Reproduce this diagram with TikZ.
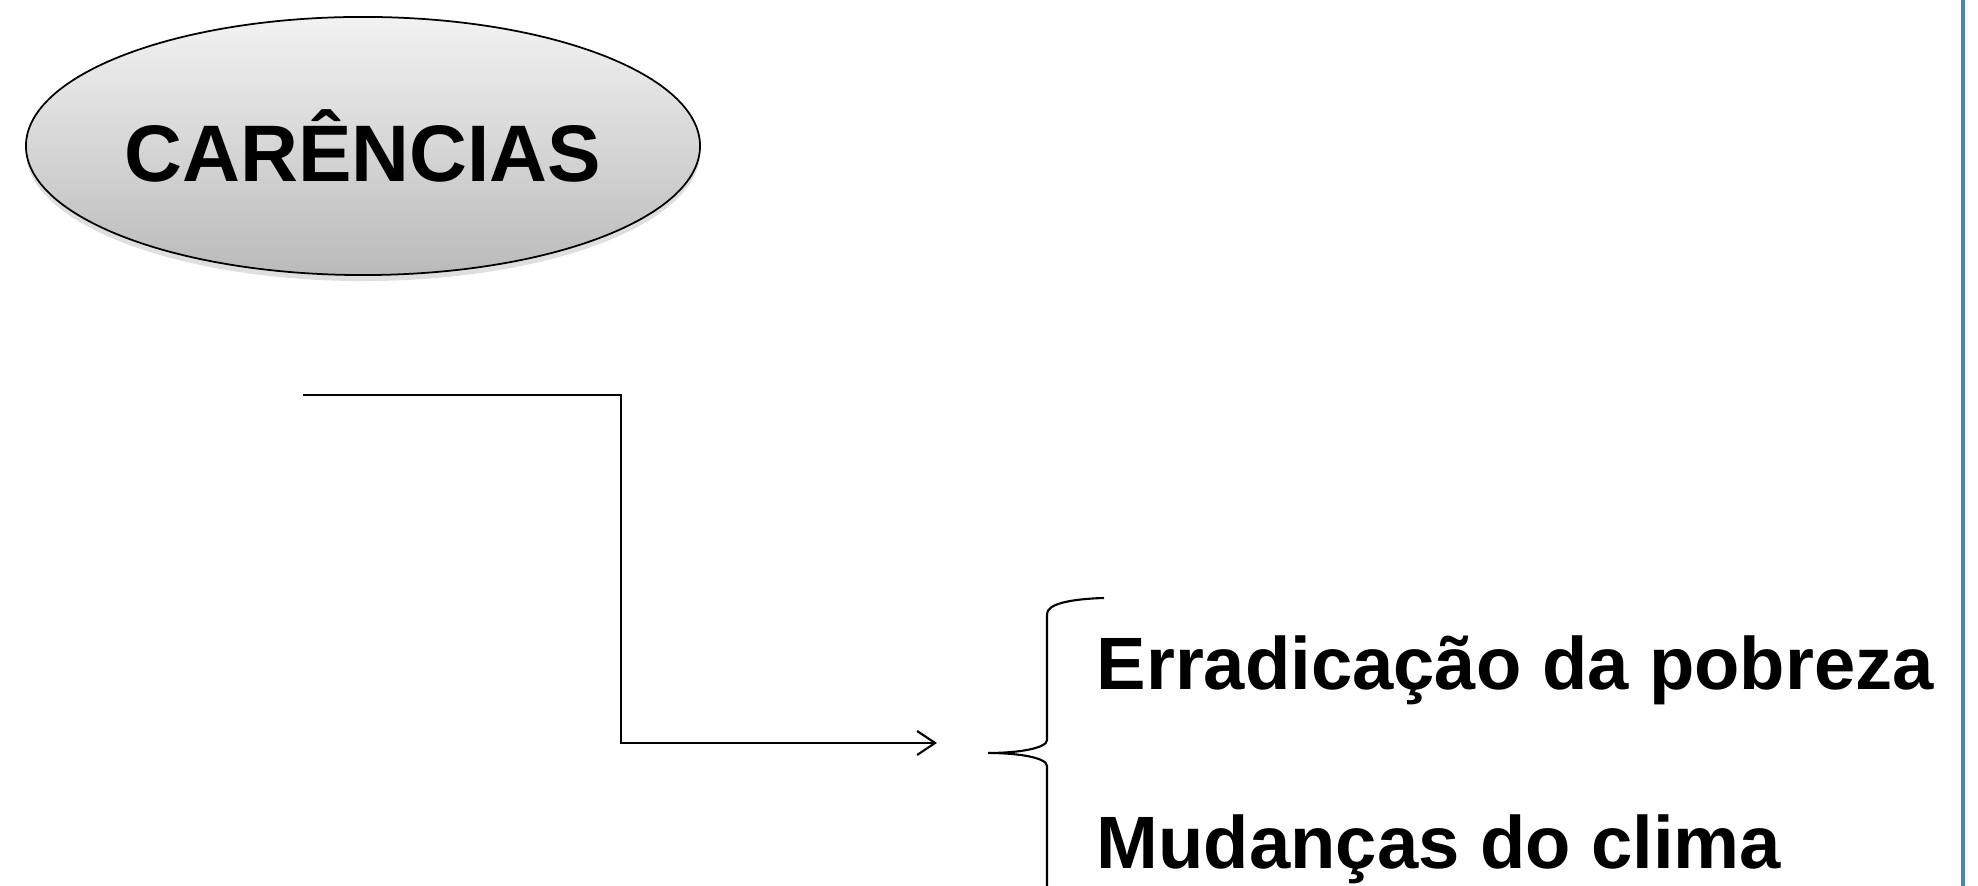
\documentclass[tikz,border=0pt]{standalone}
\usepackage{fontspec}
\setmainfont{Liberation Sans}
\usetikzlibrary{shapes.geometric,shadows,arrows.meta}
\definecolor{borderblue}{RGB}{79,129,189}
\tikzset{
  oval/.style={ellipse,draw=black,line width=0.5pt,top color=black!5,bottom color=black!27,
    minimum width=6.58cm,minimum height=2.58cm,inner sep=0pt,
    drop shadow={opacity=0.25,shadow xshift=0cm,shadow yshift=-0.06cm},
    font=\fontsize{22.8pt}{27pt}\selectfont\bfseries},
  item/.style={anchor=base west,inner sep=0pt,font=\fontsize{21.1pt}{25pt}\selectfont\bfseries},
  link/.style={line width=0.6pt}
}
\begin{document}
\begin{tikzpicture}[x=0.01cm,y=-0.01cm]
        \useasboundingbox (0,0) rectangle (1978,886);
        %ellipse
        \node[oval] (carencias) at (363,146) {CARÊNCIAS};
        %connector
        \coordinate (lineStart) at (303,395);
        \coordinate (arrowEnd) at (937,743);
        \draw[link,-{Straight Barb[length=0.18cm,width=0.24cm]}] (lineStart) -- (621,395) |- (arrowEnd);
        %brace
        \draw[link] (1104,598) .. controls (1070,599) and (1047,604) .. (1047,614) -- (1047,740)
            .. controls (1047,748) and (1020,753) .. (988,753)
            .. controls (1020,753) and (1047,758) .. (1047,766) -- (1047,892)
            .. controls (1047,902) and (1070,907) .. (1104,908);
        %items
        \node[item] (pobreza) at (1096,690) {Erradicação da pobreza};
        \node[item] (clima) at (1096,869) {Mudanças do clima};
        %border
        \draw[borderblue,line width=1.4pt] (1963,0) -- (1963,886);
\end{tikzpicture}
\end{document}
